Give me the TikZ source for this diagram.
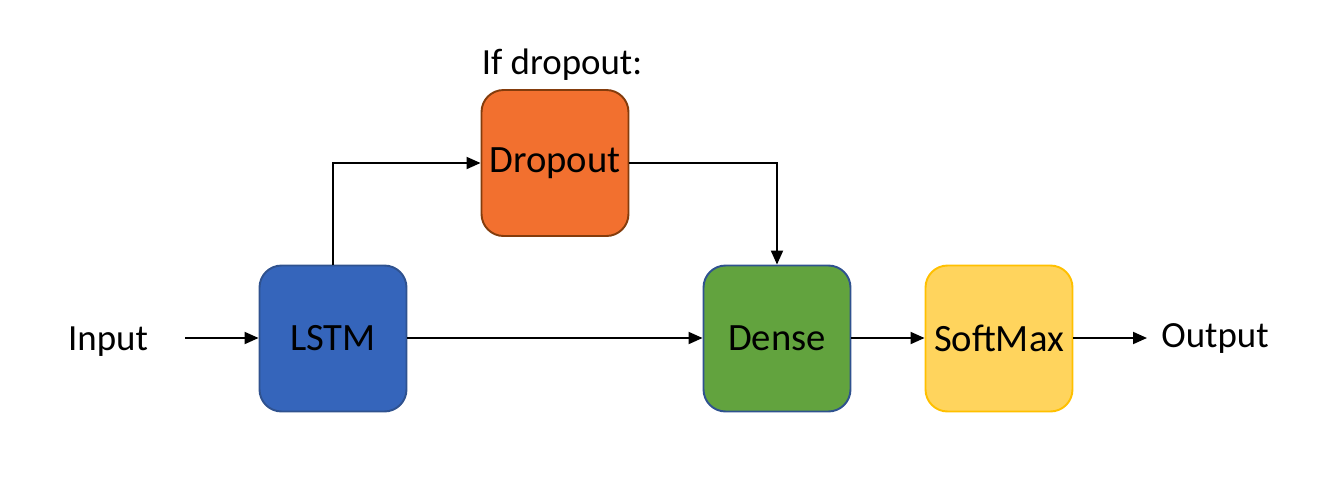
\documentclass[tikz,border=0pt]{standalone}
\usepackage{fontspec}
\setmainfont{Carlito}
\usetikzlibrary{arrows.meta}

\definecolor{lstmblue}{HTML}{3565BB}
\definecolor{boxblue}{HTML}{2F528F}
\definecolor{droporange}{HTML}{F2702F}
\definecolor{dropbrown}{HTML}{843C0C}
\definecolor{densegreen}{HTML}{62A33E}
\definecolor{softyellow}{HTML}{FFD45D}
\definecolor{softgold}{HTML}{FFC000}

\tikzset{
  layer/.style={rounded corners=0.44cm, line width=1.1pt, minimum width=2.94cm, minimum height=2.92cm, inner sep=0pt, font=\fontsize{22}{26}\selectfont},
  flow/.style={line width=1.1pt, -{Triangle[length=0.28cm,width=0.24cm]}},
  txt/.style={font=\fontsize{21}{25}\selectfont}
}

\begin{document}
\begin{tikzpicture}[x=0.02cm, y=-0.02cm]

    \useasboundingbox (0,0) rectangle (1336,478);

    \node [layer, fill=lstmblue, draw=boxblue] (lstm) at (333,338.5) {LSTM};
    \node [layer, fill=droporange, draw=dropbrown] (drop) at (555,163) {Dropout};
    \node [layer, fill=densegreen, draw=boxblue] (dense) at (777,338.5) {Dense};
    \node [layer, fill=softyellow, draw=softgold] (soft) at (999,338.5) {SoftMax};

    \node [txt] (input) at (108,342) {Input};
    \node [txt] (output) at (1215,338) {Output};
    \node [txt] (ifdrop) at (562,65) {If dropout:};

    \coordinate (instart) at (185,338);
    \coordinate (outend) at (1147,338);

    \draw [flow] (instart) -- (lstm.west |- instart);
    \draw [flow] (lstm.north) |- (drop.west);
    \draw [flow] (drop.east) -| (dense.north);
    \draw [flow] (lstm.east |- instart) -- (dense.west |- instart);
    \draw [flow] (dense.east |- instart) -- (soft.west |- instart);
    \draw [flow] (soft.east |- instart) -- (outend);

\end{tikzpicture}
\end{document}
